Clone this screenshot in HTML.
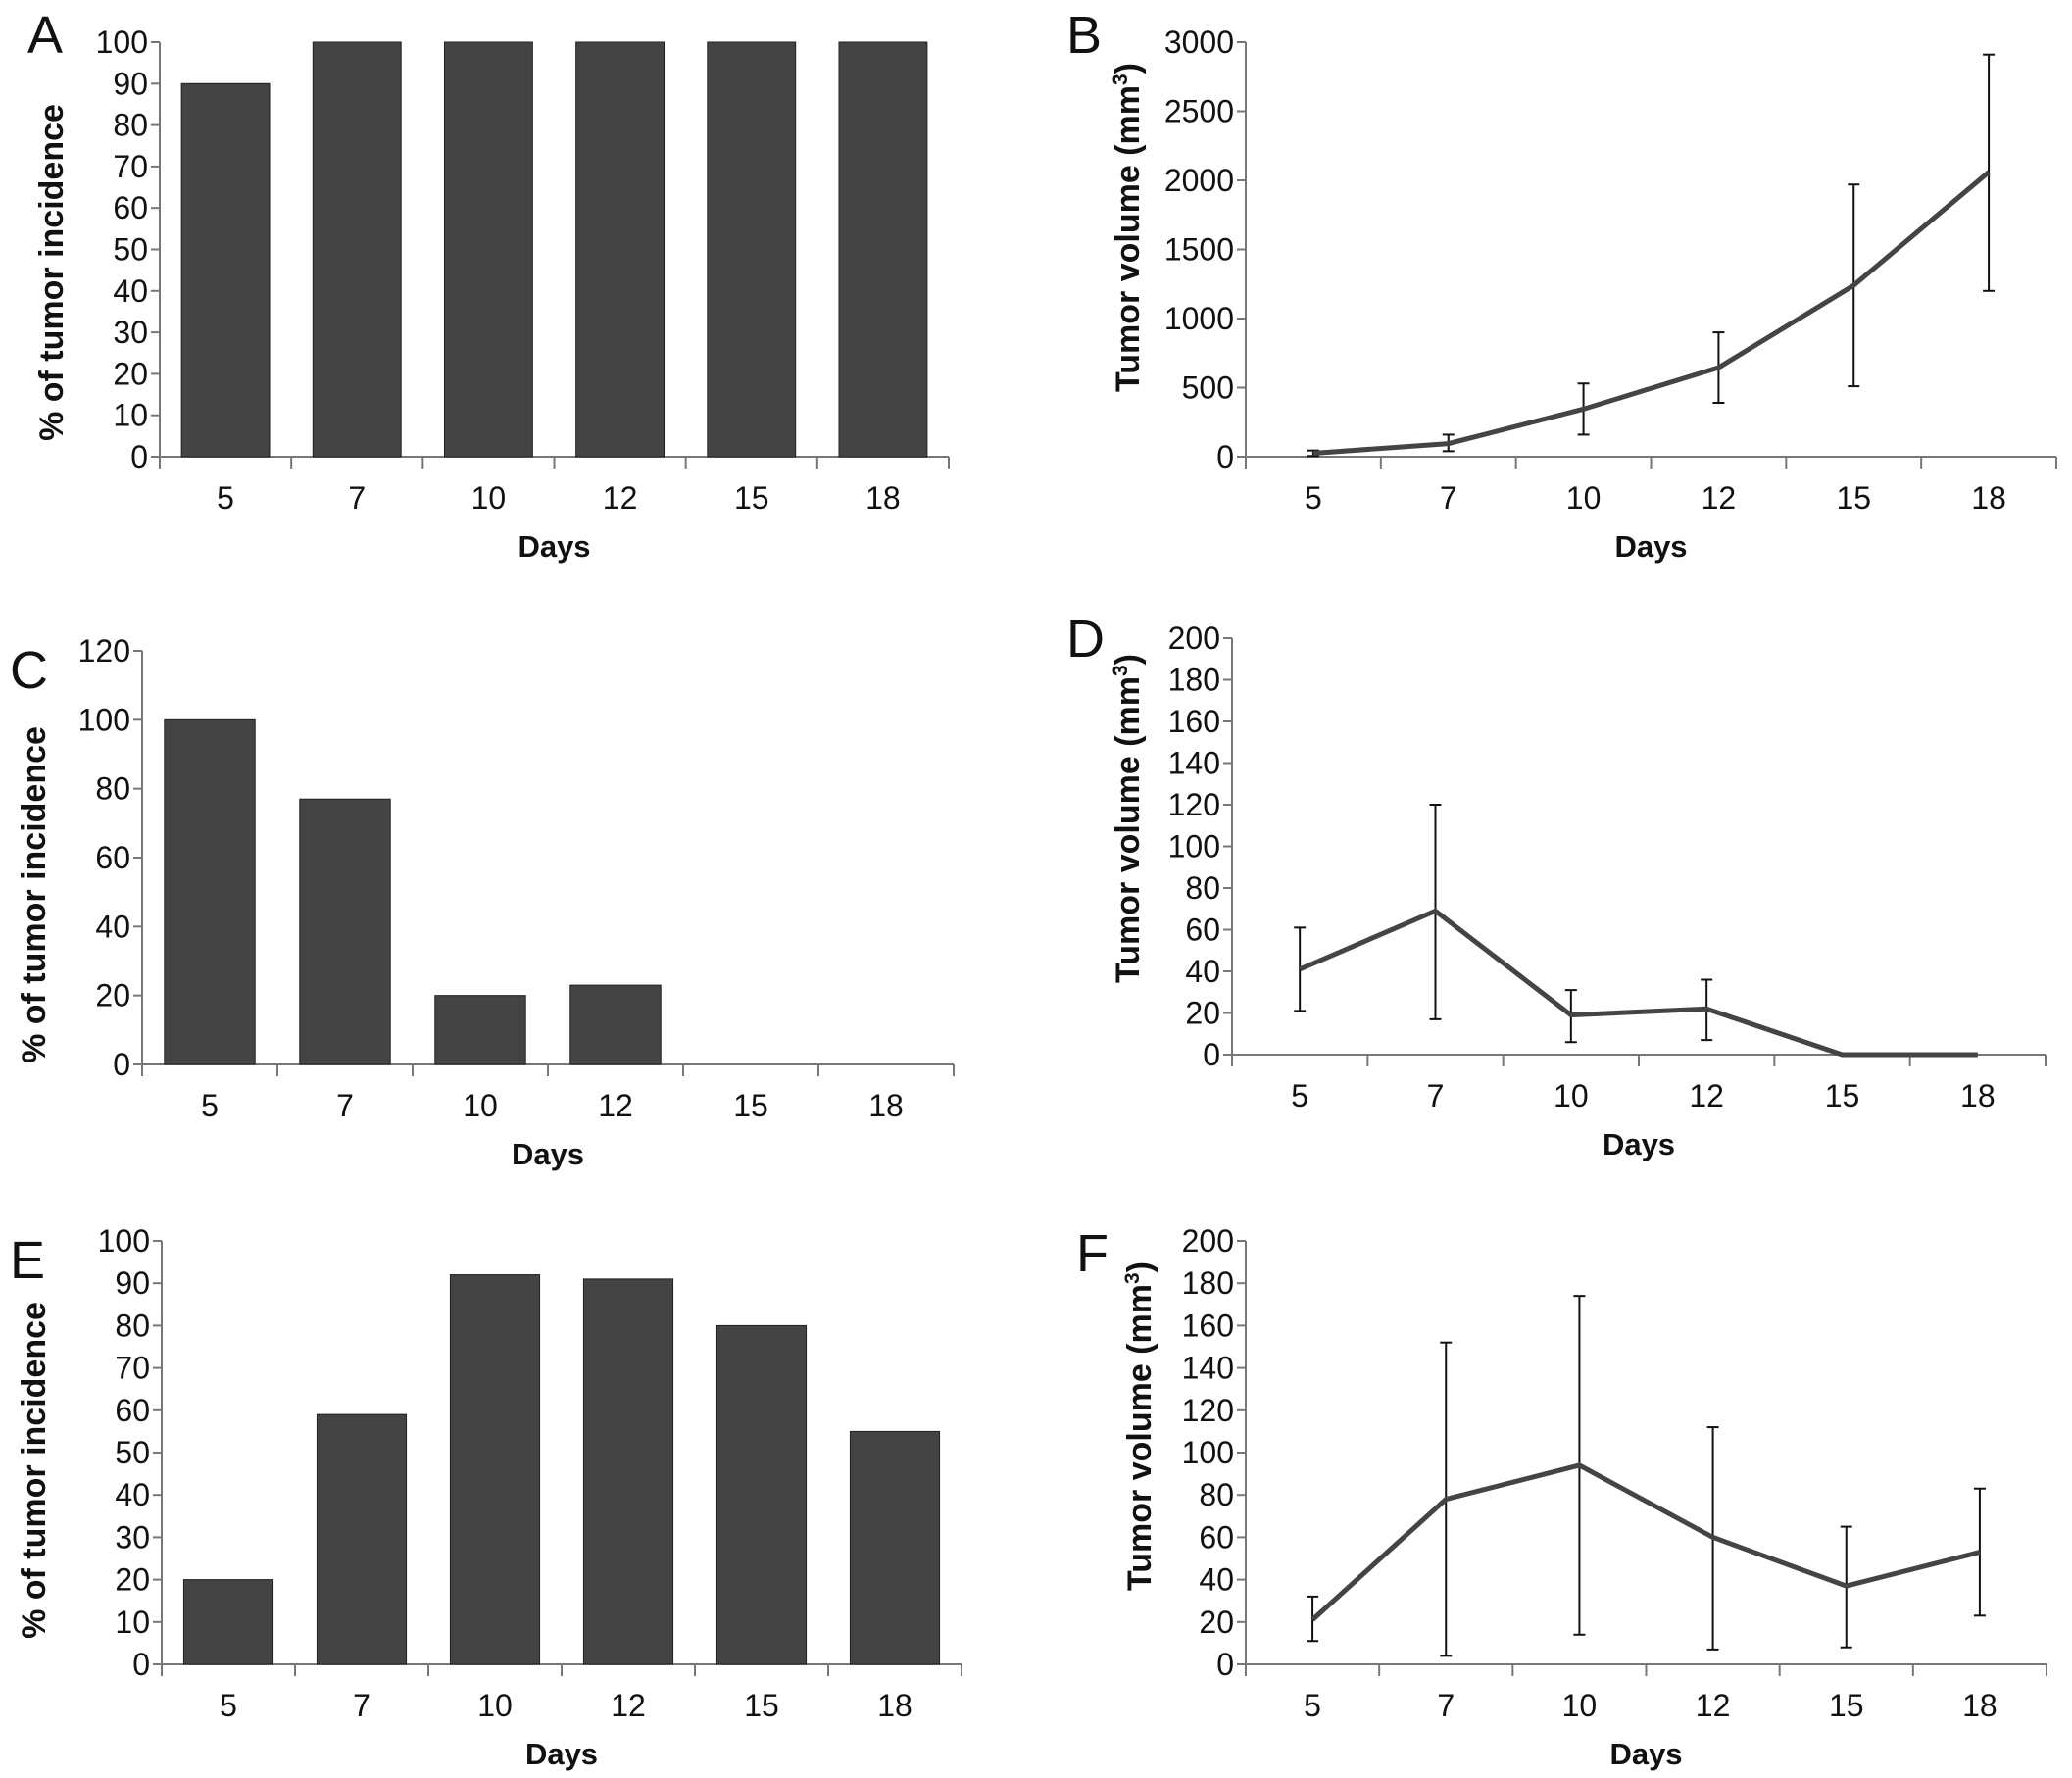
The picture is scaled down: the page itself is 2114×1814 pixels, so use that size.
<!DOCTYPE html>
<html><head><meta charset="utf-8"><style>
html,body{margin:0;padding:0;background:#fff;}
svg{display:block;font-family:"Liberation Sans",sans-serif;}
</style></head><body>
<svg id="fig" width="2114" height="1814" viewBox="0 0 2114 1814"></svg>
<script>
const days = ["5","7","10","12","15","18"];
const incA = [90,100,100,100,100,100];
const volB = [25,95,345,645,1240,2060];
const volBLo = [5,40,160,390,510,1200];
const volBHi = [45,160,530,900,1970,2910];
const incC = [100,77,20,23,0,0];
const volD = [41,69,19,22,0,0];
const volDLo = [21,17,6,7,0,0];
const volDHi = [61,120,31,36,0,0];
const incE = [20,59,92,91,80,55];
const volF = [21,78,94,60,37,53];
const volFLo = [11,4,14,7,8,23];
const volFHi = [32,152,174,112,65,83];
const ticksA = [0,10,20,30,40,50,60,70,80,90,100];
const ticksB = [0,500,1000,1500,2000,2500,3000];
const ticksC = [0,20,40,60,80,100,120];
const ticksD = [0,20,40,60,80,100,120,140,160,180,200];

const NS="http://www.w3.org/2000/svg";
const svg=document.getElementById('fig');
function mk(tag,attrs,parent,name){const e=document.createElementNS(NS,tag);for(const k in attrs)e.setAttribute(k,attrs[k]);


(parent||svg).appendChild(e);return e;}

function panel(p){
  const g=mk('g',{},svg,'panel-'+p.letter.toLowerCase());
  const n=days.length, bw=(p.x1-p.x0)/n;
  const ymax=p.ticks[p.ticks.length-1];
  const Y=v=>p.y0-(v/ymax)*(p.y0-p.yt);
  const X=i=>p.x0+bw*(i+0.5);
  mk('line',{x1:p.x0,y1:p.yt,x2:p.x0,y2:p.y0,stroke:'#777','stroke-width':2},g,'y-axis');
  p.ticks.forEach(t=>{
    mk('line',{x1:p.x0-9,y1:Y(t),x2:p.x0,y2:Y(t),stroke:'#777','stroke-width':2},g,'y-tick');
    const tx=mk('text',{x:p.x0-12,y:Y(t)+11,'text-anchor':'end','font-size':32,fill:'#111'},g,'y-tick-label');tx.textContent=t;
  });
  mk('line',{x1:p.x0,y1:p.y0,x2:p.x1,y2:p.y0,stroke:'#777','stroke-width':2},g,'x-axis');
  for(let i=0;i<=n;i++) mk('line',{x1:p.x0+bw*i,y1:p.y0,x2:p.x0+bw*i,y2:p.y0+12,stroke:'#777','stroke-width':2},g,'x-tick');
  days.forEach((d,i)=>{const t=mk('text',{x:X(i),y:p.y0+53,'text-anchor':'middle','font-size':32,fill:'#111'},g,'x-tick-label');t.textContent=d;});
  const xt=mk('text',{x:(p.x0+p.x1)/2,y:p.y0+102,'text-anchor':'middle','font-size':31,'font-weight':'bold',fill:'#111'},g,'x-axis-title');xt.textContent='Days';
  const yt=mk('text',{x:0,y:0,'text-anchor':'middle','font-size':34,'font-weight':'bold',fill:'#111',transform:`translate(${p.ytx},${p.ytc}) rotate(-90)`},g,'y-axis-title');
  if(p.bars){yt.textContent='% of tumor incidence';}
  else{yt.textContent='Tumor volume (mm';const s=mk('tspan',{'font-size':21,dy:-12},yt,'superscript');s.textContent='3';const s2=mk('tspan',{dy:12},yt,'paren');s2.textContent=')';}
  const L=mk('text',{x:p.lx,y:p.ly,'font-size':54,fill:'#111'},g,'panel-label');L.textContent=p.letter;
  if(p.bars){
    p.vals.forEach((v,i)=>{const w=bw*0.67;mk('rect',{x:X(i)-w/2,y:Y(v),width:w,height:p.y0-Y(v),fill:'#444',stroke:'#222','stroke-width':1},g,'bar-day-'+days[i]);});
  } else {
    p.lo.forEach((lo,i)=>{const hi=p.hi[i];if(hi===lo)return;
      mk('line',{x1:X(i),y1:Y(lo),x2:X(i),y2:Y(hi),stroke:'#111','stroke-width':2},g,'error-bar');
      mk('line',{x1:X(i)-6,y1:Y(lo),x2:X(i)+6,y2:Y(lo),stroke:'#111','stroke-width':2},g,'error-cap');
      mk('line',{x1:X(i)-6,y1:Y(hi),x2:X(i)+6,y2:Y(hi),stroke:'#111','stroke-width':2},g,'error-cap');});
    mk('polyline',{points:p.vals.map((v,i)=>X(i)+','+Y(v)).join(' '),fill:'none',stroke:'#444','stroke-width':5},g,'volume-line');
  }
}
panel({letter:'A',bars:true,vals:incA,ticks:ticksA,x0:163,x1:968,y0:466,yt:43,ytx:64,ytc:278,lx:28,ly:54});
panel({letter:'B',bars:false,vals:volB,lo:volBLo,hi:volBHi,ticks:ticksB,x0:1271,x1:2098,y0:466,yt:43,ytx:1162,ytc:232,lx:1088,ly:54});
panel({letter:'C',bars:true,vals:incC,ticks:ticksC,x0:145,x1:973,y0:1086,yt:664,ytx:46,ytc:913,lx:10,ly:702});
panel({letter:'D',bars:false,vals:volD,lo:volDLo,hi:volDHi,ticks:ticksD,x0:1257,x1:2087,y0:1076,yt:651,ytx:1162,ytc:835,lx:1088,ly:670});
panel({letter:'E',bars:true,vals:incE,ticks:ticksA,x0:165,x1:981,y0:1698,yt:1266,ytx:46,ytc:1500,lx:10,ly:1304});
panel({letter:'F',bars:false,vals:volF,lo:volFLo,hi:volFHi,ticks:ticksD,x0:1271,x1:2088,y0:1698,yt:1266,ytx:1174,ytc:1455,lx:1098,ly:1297});
</script>
</body></html>
